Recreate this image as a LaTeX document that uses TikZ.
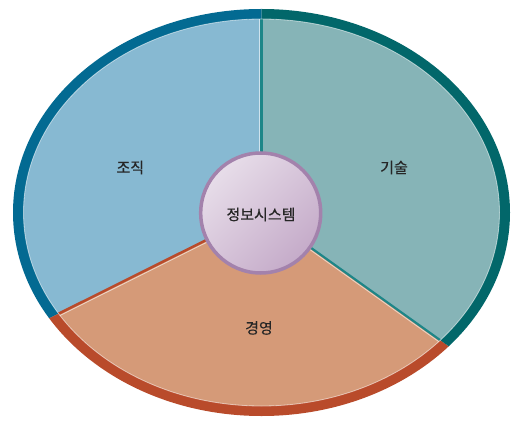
\documentclass[tikz,border=0pt]{standalone}
\usepackage{fontspec}
\newfontfamily\kr[FakeBold=0.4]{Noto Sans CJK KR}
\definecolor{blueRing}{HTML}{036A92}
\definecolor{blueFill}{HTML}{87B9D2}
\definecolor{tealRing}{HTML}{02676A}
\definecolor{tealFill}{HTML}{86B4B7}
\definecolor{tealLine}{HTML}{1E8688}
\definecolor{orRing}{HTML}{B94B2B}
\definecolor{orFill}{HTML}{D59A78}
\definecolor{cBorder}{HTML}{A382AC}
\definecolor{cLight}{HTML}{E7DDE9}
\definecolor{cDark}{HTML}{C5ABC9}
\definecolor{txt}{HTML}{262626}
\tikzset{lbl/.style={font=\kr\fontsize{15}{17}\selectfont, text=txt, inner sep=0pt}}
\begin{document}
\begin{tikzpicture}[x=1pt,y=-1pt]
\useasboundingbox (0,0) rectangle (526,427);
\coordinate (C) at (261.5,212.5);
\coordinate (T) at (261.5,-200);
\coordinate (L) at (-400,542.4);
\coordinate (R) at (900,668.6);
% outer ring
\begin{scope}
\clip (C) ellipse [x radius=248.5, y radius=203.5];
\fill[blueRing] (C) -- (T) -- (-400,-200) -- (L) -- cycle;
\fill[orRing] (C) -- (L) -- (-400,800) -- (900,800) -- (R) -- cycle;
\fill[tealRing] (C) -- (R) -- (900,-200) -- (T) -- cycle;
\end{scope}
% inner fills
\begin{scope}
\clip (C) ellipse [x radius=238, y radius=193.5];
\fill[blueFill] (C) -- (T) -- (-400,-200) -- (L) -- cycle;
\fill[orFill] (C) -- (L) -- (-400,800) -- (900,800) -- (R) -- cycle;
\fill[tealFill] (C) -- (R) -- (900,-200) -- (T) -- cycle;
% highlights
\draw[white, opacity=0.6, line width=0.8pt] ([xshift=-2pt]C) -- ([xshift=-2pt]T);
\draw[white, opacity=0.6, line width=0.8pt] ([yshift=-2.5pt]C) -- ([yshift=-2.5pt]L);
\draw[white, opacity=0.6, line width=0.8pt] ([yshift=-2.5pt]C) -- ([yshift=-2.5pt]R);
% dividers
\draw[tealLine, line width=2.2pt] (C) -- (T);
\draw[orRing, line width=2.5pt] (C) -- (L);
\draw[tealLine, line width=2.2pt] (C) -- (R);
\end{scope}
\draw[white, opacity=0.55, line width=0.8pt] (C) ellipse [x radius=238, y radius=193.5];
% center circle
\node[circle, minimum size=120pt, draw=cBorder, line width=3.5pt,
      left color=cLight, right color=cDark, shading angle=45] (core) at (260.7,213) {};
\node[lbl] (is) at (261,214.5) {정보시스템};
\node[lbl] (org) at (130.3,167.5) {조직};
\node[lbl] (tech) at (394,167.5) {기술};
\node[lbl] (mgmt) at (259,328) {경영};
\end{tikzpicture}
\end{document}
